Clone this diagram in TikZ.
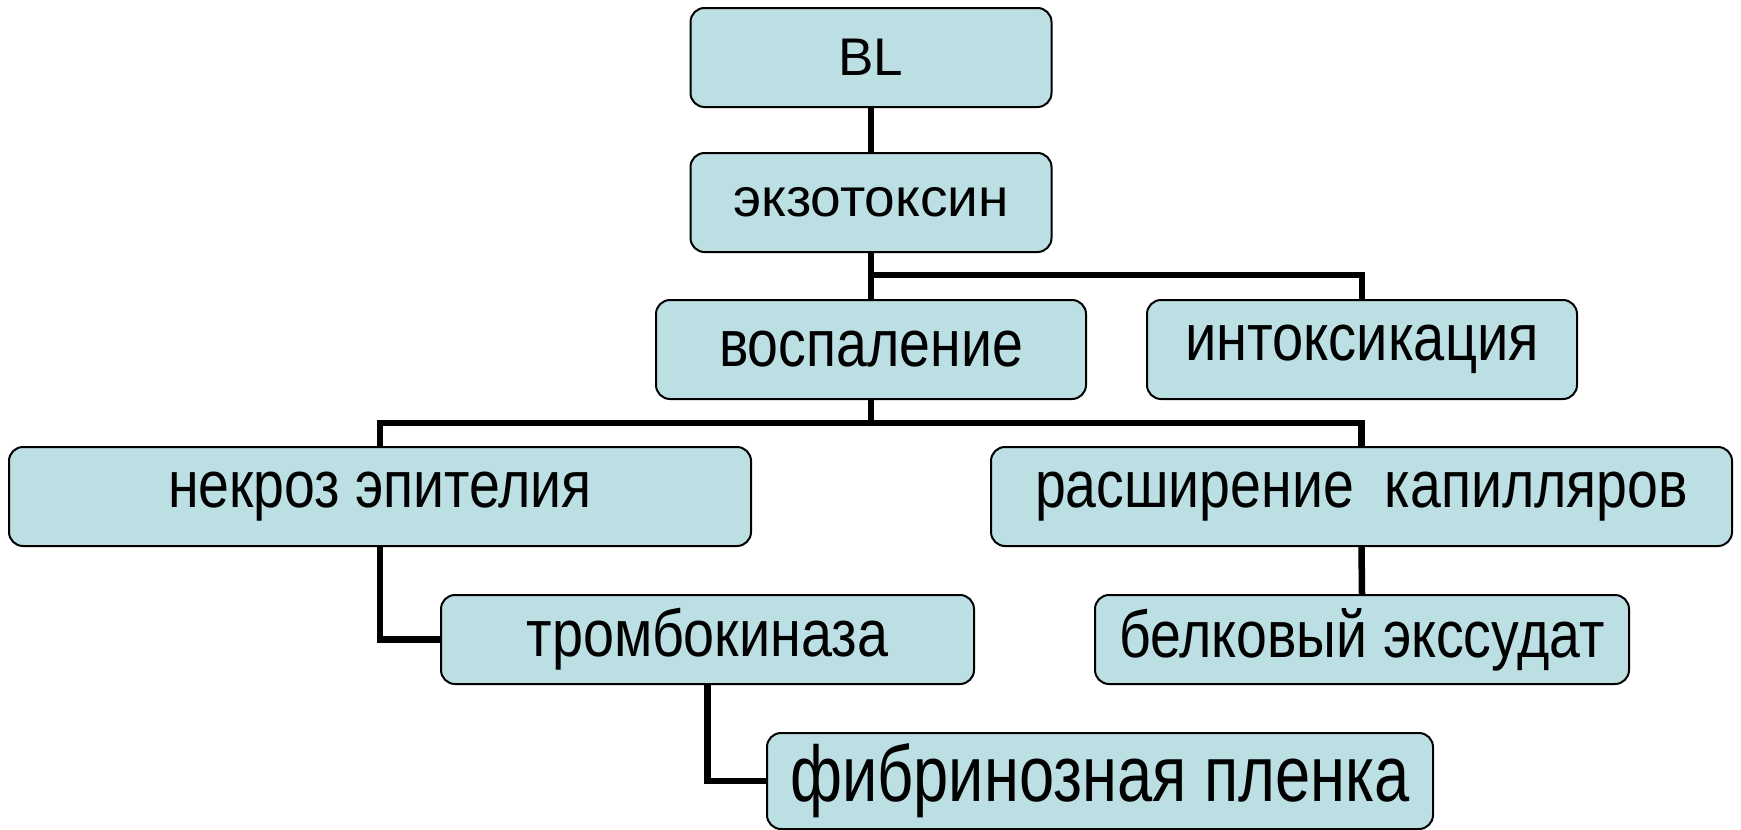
\documentclass[tikz,border=0pt]{standalone}
\usepackage{fontspec}
\setmainfont{Liberation Sans}
\usepackage{graphicx}
\definecolor{boxfill}{RGB}{187,223,226}
\newcommand{\tx}[4]{\fontsize{#1}{#1}\selectfont\raisebox{#4}{\scalebox{#2}[1]{#3}}}
\begin{document}
\begin{tikzpicture}[x=1pt,y=-1pt,
  box/.style={draw=black, line width=2pt, fill=boxfill, rounded corners=14pt, inner sep=0pt, align=center},
  link/.style={line width=6.5pt, draw=black}]
\useasboundingbox (0,0) rectangle (1741,830);
\fill[white] (0,0) rectangle (1741,830);
\coordinate (j1) at (871,275);
\coordinate (j2) at (871,423);
\node[box, minimum width=361pt, minimum height=99pt] (bl) at (871,57.5) {\tx{53}{1}{BL}{0pt}};
\node[box, minimum width=361pt, minimum height=99pt] (exo) at (871,202.5) {\tx{54}{1.02}{экзотоксин}{-2pt}};
\node[box, minimum width=430pt, minimum height=99pt] (vosp) at (871,349.5) {\tx{66}{0.84}{воспаление}{-3pt}};
\node[box, minimum width=430pt, minimum height=99pt] (intox) at (1362,349.5) {\tx{66}{0.85}{интоксикация}{-3pt}};
\node[box, minimum width=742pt, minimum height=99pt] (nekr) at (380,496.5) {\tx{66}{0.84}{некроз эпителия}{-3pt}};
\node[box, minimum width=741pt, minimum height=99pt] (rassh) at (1361.5,496.5) {\tx{66}{0.84}{расширение\ \ капилляров}{-3pt}};
\node[box, minimum width=533pt, minimum height=89pt] (tromb) at (707.5,639.5) {\tx{66}{0.845}{тромбокиназа}{-3pt}};
\node[box, minimum width=534pt, minimum height=89pt] (belk) at (1362,639.5) {\tx{66}{0.84}{белковый экссудат}{-3pt}};
\node[box, minimum width=666pt, minimum height=96pt] (fibr) at (1100,781) {\tx{79}{0.80}{фибринозная пленка}{-7pt}};
\draw[link] (bl) -- (exo);
\draw[link] (exo.south) -- (vosp.north);
\draw[link] (j1) -| (intox.north);
\draw[link] (vosp.south) -- (j2);
\draw[link] (nekr.north) |- (j2) -| (rassh.north);
\draw[link] (nekr.south) |- (tromb.west);
\draw[link] (tromb.south) |- (fibr.west);
\draw[link] (rassh.south) -- (belk.north);
\end{tikzpicture}
\end{document}
